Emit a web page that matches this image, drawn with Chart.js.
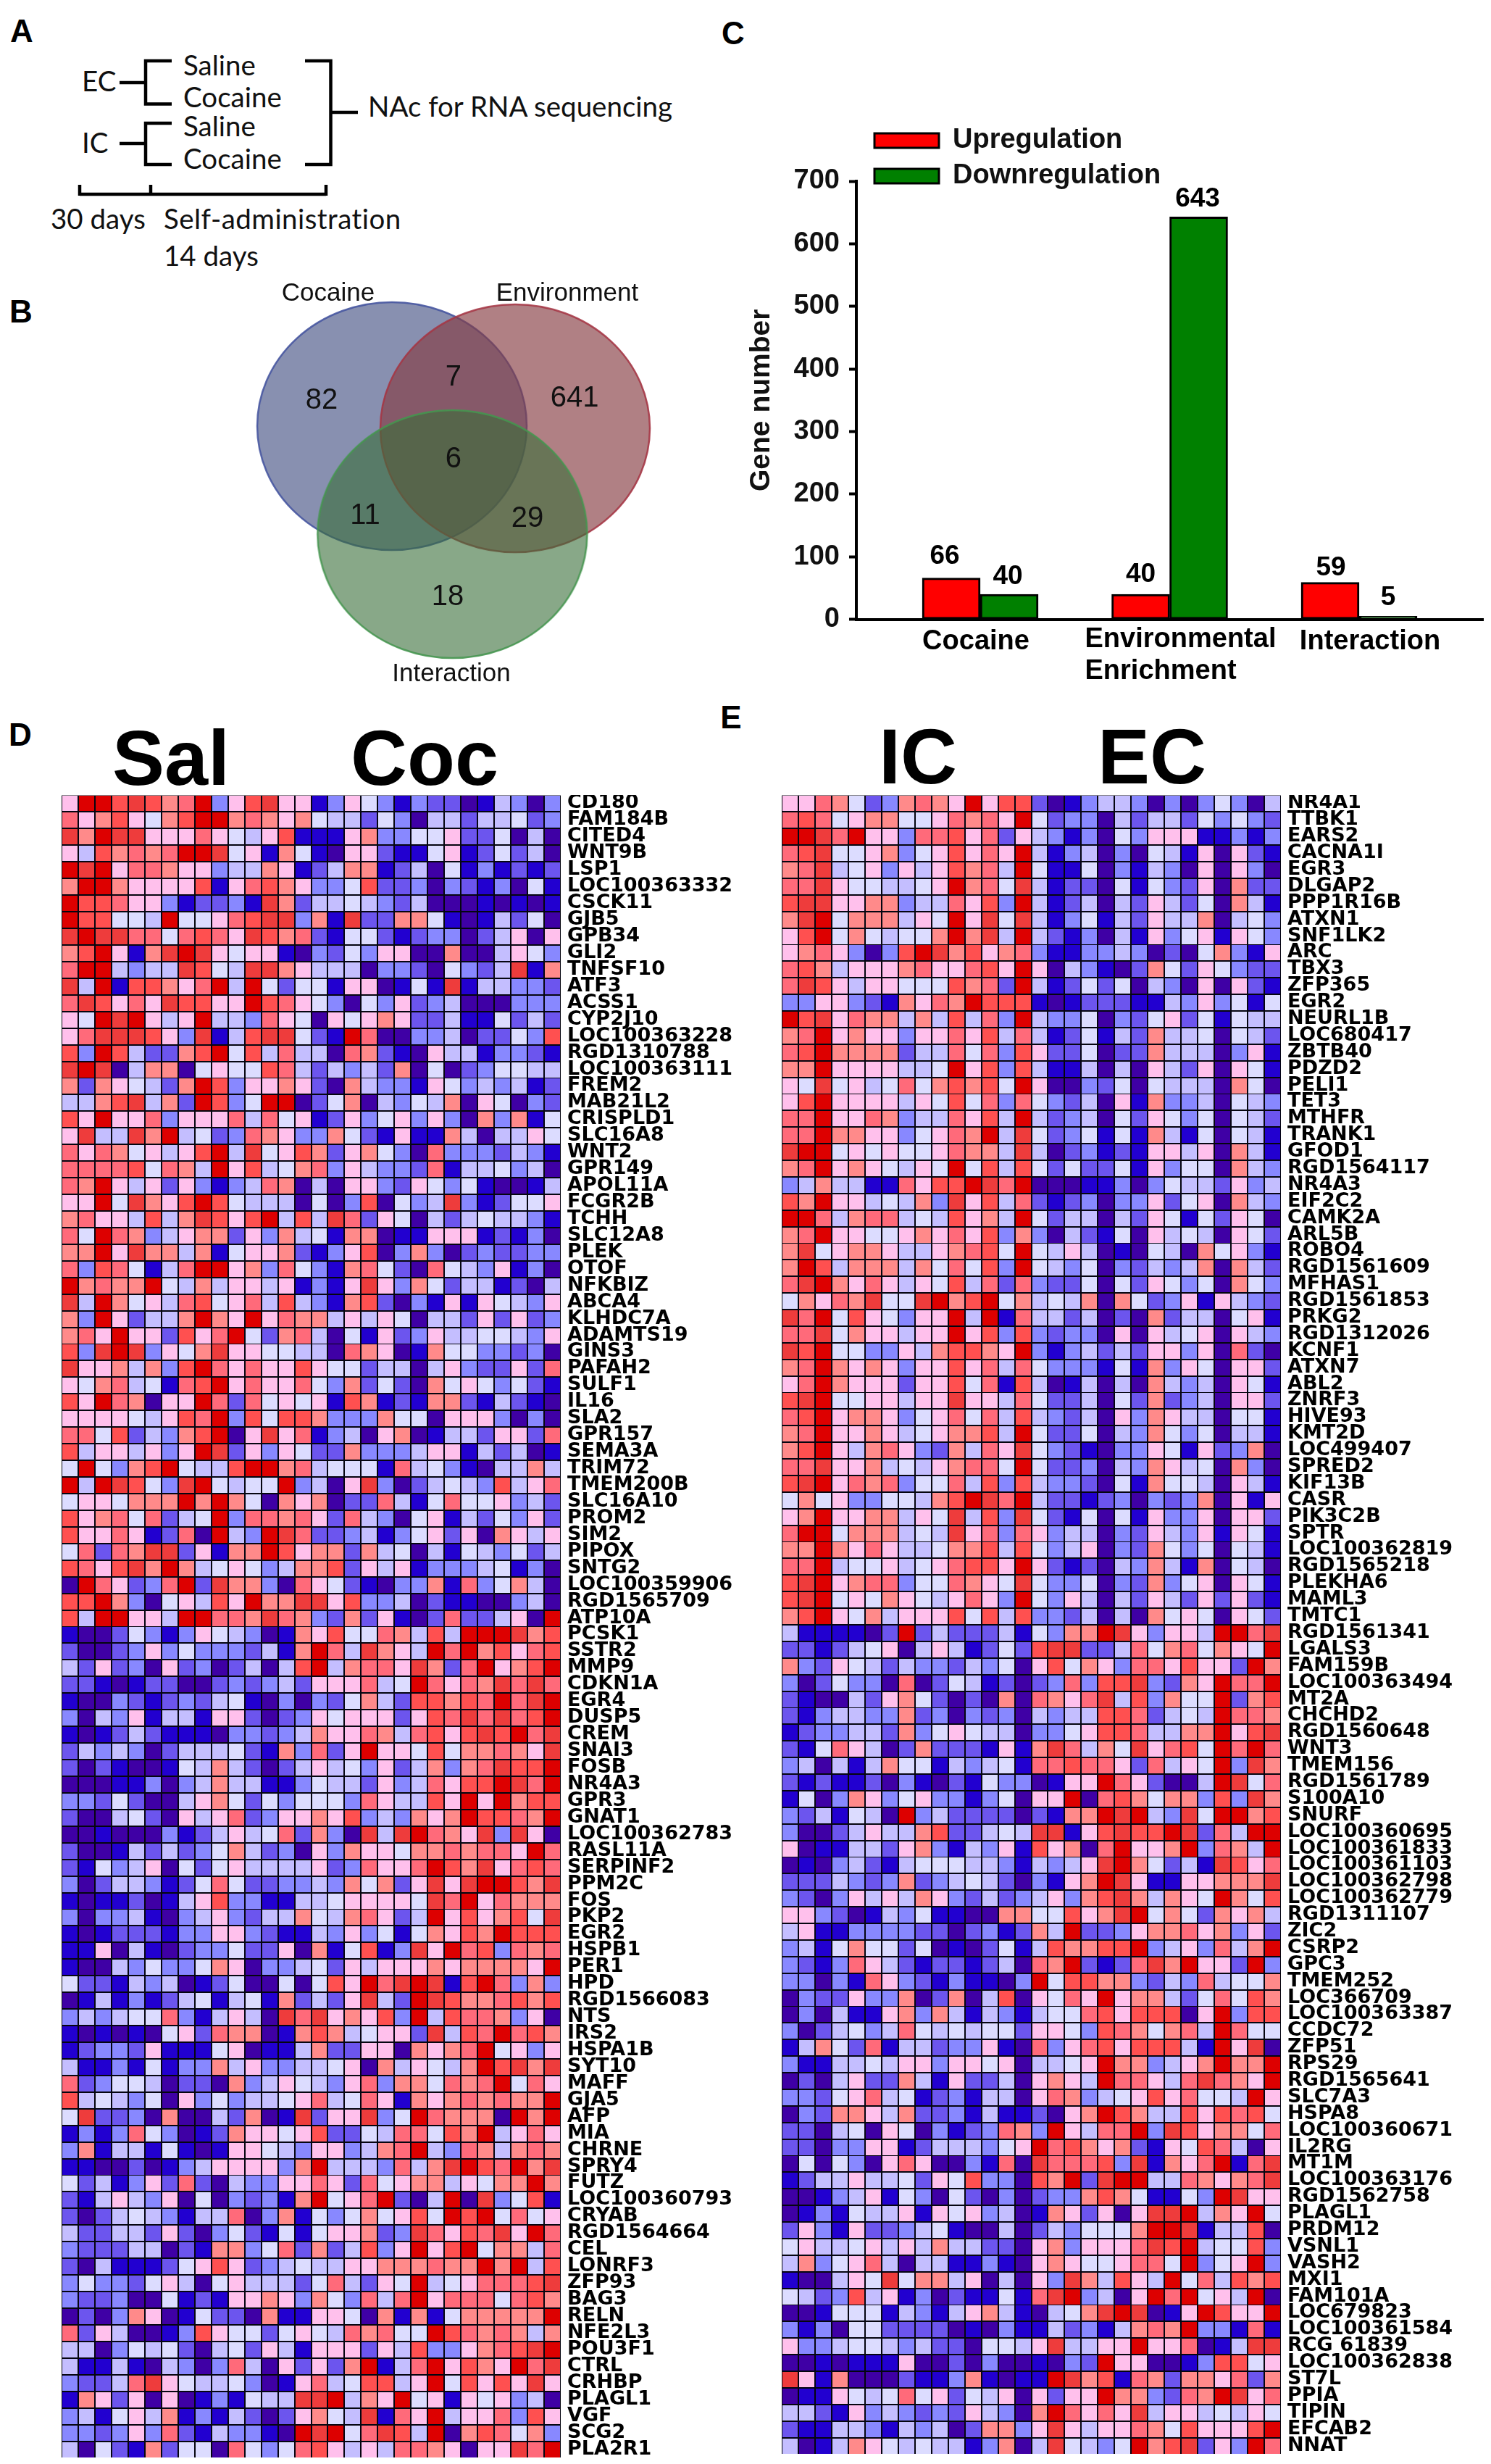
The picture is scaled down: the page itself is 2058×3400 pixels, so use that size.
<!DOCTYPE html>
<html><head><meta charset="utf-8"><title>Gene expression figure</title>
<script src="https://cdn.jsdelivr.net/npm/chart.js@4/dist/chart.umd.min.js"></script>
<style>
html,body{margin:0;padding:0;background:#fff;overflow:hidden}
#page{position:relative;width:2058px;height:3400px;background:#fff;overflow:hidden}
canvas{position:absolute;display:block}
.t{position:absolute;white-space:pre;line-height:1;color:#000;transform:translate(0,-50%)}
.c{transform:translate(-50%,-50%)}
.letter{font:bold 44px "Liberation Sans",Arial,sans-serif}
.big{font:bold 108px "Liberation Sans",Arial,sans-serif}
.cal{font:38.5px Lato,sans-serif;color:#111}
svg{position:absolute;left:0;top:0}
</style></head><body><div id="page">
<svg width="1000" height="380"><g fill="none" stroke="#000" stroke-width="4.500">
<path d="M165 114H201M237 84H201V143.500H237"/>
<path d="M165 198H201M237 170H201V227H237"/>
<path d="M421 84H456.500V227H421M456.500 155H494"/>
<path d="M110 268H450M110 255V270M208 255V270M450 255V270"/>
</g></svg>
<div class="t c letter" style="left:30px;top:43px">A</div>
<div class="t c letter" style="left:29px;top:430px">B</div>
<div class="t c letter" style="left:1012px;top:46px">C</div>
<div class="t c letter" style="left:28px;top:1014px">D</div>
<div class="t c letter" style="left:1009px;top:990px">E</div>
<div class="t cal" style="left:113px;top:111px">EC</div>
<div class="t cal" style="left:113px;top:196px">IC</div>
<div class="t cal" style="left:253px;top:89px">Saline</div>
<div class="t cal" style="left:253px;top:133px">Cocaine</div>
<div class="t cal" style="left:253px;top:173px">Saline</div>
<div class="t cal" style="left:253px;top:218px">Cocaine</div>
<div class="t cal" style="left:508px;top:146px">NAc for RNA sequencing</div>
<div class="t cal" style="left:70px;top:301px">30 days</div>
<div class="t cal" style="left:226px;top:301px;letter-spacing:.45px">Self-administration</div>
<div class="t cal" style="left:226px;top:352px">14 days</div>
<div class="t c big" style="left:236px;top:1045px">Sal</div>
<div class="t c big" style="left:586px;top:1045px">Coc</div>
<div class="t c big" style="left:1267px;top:1043px">IC</div>
<div class="t c big" style="left:1590px;top:1043px">EC</div>
<canvas id="venn" width="700" height="580" style="left:300px;top:380px"></canvas>
<canvas id="bars" width="1058" height="800" style="left:1000px;top:150px"></canvas>
<canvas id="heatD" width="945" height="2294" style="left:85px;top:1097px"></canvas>
<canvas id="heatE" width="979" height="2289" style="left:1079px;top:1097px"></canvas>
</div>
<script>
/* ---------- Panel B ---------- */
const vennSetNames = ['Cocaine', 'Environment', 'Interaction'];
const vennCentresX = [34.43, 58.71, 46.34];
const vennCentresY = [64.14, 63.62, 38.45];
const vennSetLabelX = [21.86, 69, 46.14];
const vennSetLabelY = [95.56, 95.56, 5.04];
const vennCounts = [82, 7, 641, 6, 11, 29, 18];
const vennCountX = [20.57, 46.57, 70.43, 46.57, 29.14, 61.14, 45.43];
const vennCountY = [70.19, 75.71, 70.71, 56.22, 42.78, 42.09, 23.47];

/* ---------- Panel C ---------- */
const barCategories = [['Cocaine'], ['Environmental', 'Enrichment'], ['Interaction']];
const upregulation = [66, 40, 59];
const downregulation = [40, 643, 5];

/* ---------- Panels D and E: level letters run a (lowest) to l (highest) ---------- */
const levelLetters = 'abcdefghijkl';
const levelColors = ['#3F00A5','#2200D0','#6C55EE','#8888FF','#C4BEFF','#DCDCFF','#FFC0EC','#FF8A8A','#FF6A7A','#FF5050','#EE3C3C','#DD0000'];

const genesD = ['CD180','FAM184B','CITED4','WNT9B','LSP1','LOC100363332','CSCK11','GJB5','GPB34','GLI2','TNFSF10','ATF3','ACSS1','CYP2J10','LOC100363228','RGD1310788','LOC100363111','FREM2','MAB21L2','CRISPLD1','SLC16A8','WNT2','GPR149','APOL11A','FCGR2B','TCHH','SLC12A8','PLEK','OTOF','NFKBIZ','ABCA4','KLHDC7A','ADAMTS19','GINS3','PAFAH2','SULF1','IL16','SLA2','GPR157','SEMA3A','TRIM72','TMEM200B','SLC16A10','PROM2','SIM2','PIPOX','SNTG2','LOC100359906','RGD1565709','ATP10A','PCSK1','SSTR2','MMP9','CDKN1A','EGR4','DUSP5','CREM','SNAI3','FOSB','NR4A3','GPR3','GNAT1','LOC100362783','RASL11A','SERPINF2','PPM2C','FOS','PKP2','EGR2','HSPB1','PER1','HPD','RGD1566083','NTS','IRS2','HSPA1B','SYT10','MAFF','GJA5','AFP','MIA','CHRNE','SPRY4','FUTZ','LOC100360793','CRYAB','RGD1564664','CEL','LONRF3','ZFP93','BAG3','RELN','NFE2L3','POU3F1','CTRL','CRHBP','PLAGL1','VGF','SCG2','PLA2R1'];

const genesE = ['NR4A1','TTBK1','EARS2','CACNA1I','EGR3','DLGAP2','PPP1R16B','ATXN1','SNF1LK2','ARC','TBX3','ZFP365','EGR2','NEURL1B','LOC680417','ZBTB40','PDZD2','PELI1','TET3','MTHFR','TRANK1','GFOD1','RGD1564117','NR4A3','EIF2C2','CAMK2A','ARL5B','ROBO4','RGD1561609','MFHAS1','RGD1561853','PRKG2','RGD1312026','KCNF1','ATXN7','ABL2','ZNRF3','HIVE93','KMT2D','LOC499407','SPRED2','KIF13B','CASR','PIK3C2B','SPTR','LOC100362819','RGD1565218','PLEKHA6','MAML3','TMTC1','RGD1561341','LGALS3','FAM159B','LOC100363494','MT2A','CHCHD2','RGD1560648','WNT3','TMEM156','RGD1561789','S100A10','SNURF','LOC100360695','LOC100361833','LOC100361103','LOC100362798','LOC100362779','RGD1311107','ZIC2','CSRP2','GPC3','TMEM252','LOC366709','LOC100363387','CCDC72','ZFP51','RPS29','RGD1565641','SLC7A3','HSPA8','LOC100360671','IL2RG','MT1M','LOC100363176','RGD1562758','PLAGL1','PRDM12','VSNL1','VASH2','MXI1','FAM101A','LOC679823','LOC100361584','RCG 61839','LOC100362838','ST7L','PPIA','TIPIN','EFCAB2','NNAT'];

const rowsD = [
'glljkjhildgjkggbdgfdbdccabedad','ighjgfhjllhihghfeecfdaeeceefcd','khlkkgggigfegjbbbghddffgccfaea','gejhihillkfgbhfbaggcbbfgbcfcea','lklgiihggdeehgbcehhbceafbdbcbc',
'hllhggggjbgijhgddfjccdadcbdafb','ljjiggdbccdbkhceefedceaaababab','ljjffelffgijkkdhbkcchhfbabecfa','klkkiifijigkjhicbffcbcddacegag','hjlgbhklkgfggbadcfdggaahaaegfd',
'illedeekjfekkhgeeeaddcafdcekbh','kelbjjhgilelfcffbggabfbkbeeddc','ikjgigkjjggljigfdafdgcdeaaaddd','gflklgegleedigfagfghgccebbfcec','gikkkjgdkbejkkfcbliaaddeaccfdj',
'jdljecchjlfjeieeaihcbageebddcb','klkaehhafgffjiecedechafacdffee','hchgfechljdgghgcaheddbgfdedebc','eehjkehcljdfllacfhaedfehagfadc','jglggidgggieifgbcgdfgdgdahdhbf',
'gkeekhlefcdihgddhfcbgbbheaeegf','igihfgegjlekfgjhcghfdaidddcedb','iiiijfihelgjefhidgeddcibeefdea','ihlgegcgdbdeihaeaggdcgfdfbaabe','gglfkhgjljfeeeafadjafdekdbcffg',
'higgejehkjgjlejekicgfaecefeedb','iflihdeghhcgdhefbhhabbgggbcbda','hhlgkhhehbfgghcbdgjadhdacdccdd','idjifbeillghdifdbhifcaifedgbda','lhihhlfeheggegbdbgkgdhfceebcae',
'kelhfgeijfgiejedbhjcadbgbgfedg','hdlgceehlhglgihhegegfaeecgcgcd','higlggcjgilfchieafbgcdgeeffedg','jdklkdgfhkggffeeaihgabhffddcda','kgghehdjligiggjgffceeaegdccgci',
'gfhiefbijlgiggifdhcfcahfgfdfcb','jglihagglicifgfgbjhbcbhhcbecba','ggggfegjildjfjjhdddhffagggdada','iifjcedhjlagkgibdeaghabeecggci','jeggegdglkcgdgfcchdddeggbeceab',
'flfdhjlfeejllhiefffbiefdbaeehe','lelkjfdklfeffldeagkdacefedjegi','fggfhhhlhlhfahghacciebfiffgdec','jghificefldiihigciedafgbecfdgc','jggigbcialedlkiccdebdfgcgahgeg',
'ficihkkcgbhhljghhchefaebfedfce','jigjkhlhefgfdehhjcgegbdddefbda','aligcdilckhhdaigfcbaddhbidfhea','jjlhdafgejglhhkkgjddeacbbaadea','jellggelliihkihdchcgbaciccegal',
'baacfdbdgfedabhgjffihejelllkhj','caacdgdfdddcebhliekhgelilhjgij','ecgcdagcdaceaejlehiigkhcilghjl','ccbabccaacdcdecgggiefligihkiki','baadcbcdcefbadadcfhecjjhjilikl',
'daedgbeebggcacdgfgggcgjikikijl','babcecbbbaddcdehggiheijgjkjlik','cededaceeefcbhdicglggfjfhhihgk','cacbaabfehecacegefdgcehdhikjjl','aaabbdadeheebbdfeecgdeigjjlkil',
'ddcfcaaeghfcfdfffdigeejglglhjj','caaefcagegicdgghgjdedhghljjihl','aabaaadbcegefichdakeklihgkdkga','caabececdfhecdagdhggfhhihiigli','cbfdegafcfgeeeegcdiggiljhkgiji',
'daceedbcfifccddedhfhcgkgklljhk','babbcabegjddbbeefggggfkilgihhh','daddebadegdceehfehigcelgjghjfk','babcccbddggdcbbedgdfbfhgjhljjj','bbgaebacddfccgahbfjbdkglijdihi',
'baaedfddfhgaddefcgeggghghhhhgl','fccbedeabcfaafafjgliklkbjlidhd','abebdbcefbefbhcecgkeclkjhhijhj','dedeffidbegeakikghgjdlejiihdga','bababafgcihhabhjhefggckejilijh',
'bcddcgbbbfgabbehccggahghilfgdg','ebbdbfbddhegddeefgahegfehljkhk','icdffeaccahdegfedgidhhfihilfig','jefedfagdfdeefgiefigbhghihihhl','fkccdahaaechabkcggkdflihhhalhl',
'bdbdifdabchggfgjccfeiifjhlegig','dhbeebfbabggfedggdehiledihehih','bbaacabdeggggdhleeediehkljilhk','fcebdgcicaeddggigcifghhegfhhlh','cbegedgafadcdbhlfgilcaelakdfjb',
'cacefedbeeiadhbfdfhfgjfljlfifg','ecceecgcadfcbfbfgghcdkigjikgli','dccceeacbhhdfichcejdglgjlfhhei','caebbbcfgjgcdefeegghhhihhlhlej','dfddcfgeafgeeecfiecgflefgiiijk',
'dccdaafbcbgghgdhfdieilgiiifijh','acadhgabfccahbbggfahbhbfhhhhhl','icgeaabdjgffcfgfeihiffljihiheh','eeadfefcaefcgebgggcgejddghijkl','ebbebaedadieagcgchlbeilgjhglik',
'dcceikgfeefdabgiefjjeglfjgjgkg','bhgcgagabdbfeekklehglfgbgfgdea','debfgehbdbecacghfekbigleggidjg','ddcdgdicbeddbalklfikjelahjifhd','eafcbhcffaifdfijgegeiihgaggkil'];

const rowsE = [
'ggihfcdhihglgjjcabdeedadadfdae','ijifghhffgihiglfcddaeceecfdfdc','llkilggdiijgicgedbdafdgggbbdbd','ijkffghdfgjgiglebdeadafebgagcb','hikefgdgegjhielfbbfadbedagagda',
'iikgffeefglhifkebccafbfdcgahcc','jkkgghhdeeigjdlebceaecgecfaheb','hklfhhhegflgkfkebdfbecgeehaefd','gjlfhfeffhlhkelecbdaebgdfgbgfd','ghigdadjlkhjghidbbddedacafhdbg',
'ijheggghiggijglgaedbachfcgfdcc','ikjgeggfffjhiclebcfcfaedagagcb','ddggdcbhgihljjjbabcccbbedgdfbf','ljkgihhehejeidleddfadcfgcfbfee','hilghggdggigjeiebcfbecheefafec',
'ijlhhhhceeifidjgccfaccheeeadgb','hhlggggeeflgjdjebbeaeagecgagfb','gfkfgefifhjhjflgaadcfafeeeahfa','gjlggggegfjfidifdceagbhddeafed','iilggihdeeigjelecdeafcgfdfafec',
'iilhhggdfgihlekfcdfbfbhebfafeb','kllfgfgffgihhekeacdbcbggegaheb','hilghgfegflfjejfcfccfbgdffahed','deheebbigjjlkilaaabbdadfeecgde','jhlggefehdkgjeicbcdaddgcfgahed',
'lliehiiefejghelfceeaecgfbfcgfa','hilggffghgigjdhdaecbfagefeagfc','hkfghhgeeghijflfegeabafeahfgdb','hljehhhehfifjdlfedfadcedehahec','iklhgigegfjeicidccfafcgfdfahfd',
'fhgihkffklhjlfhefehahfcdgbgedc','kilfjgfdgglelbieeceacahceeafgb','iikfhggegglgjdjdcddagagefgaged','kjlffddgehjjhgldbdececggdgaica','hilhghgdggjgieifdddbfbhdgfaggc',
'gilhgggcggjfibjeabeaeahedeagfb','jklffggeggkggeifcceafchcdeaggc','ijlghhgdfgifiejedceagdhgeeaffb','hilgghgefghhjelfccfaedhfdfaeeb','hjlgehigdcheigkfdcbaddgfbgcdha',
'iikgghefeghiiflfccdaedhgefahda','jklgihidffiejdjeddcafbhffeageb','fhfgddffehjlkileccbcdadcdhagbg','ghlgghhegfkejdkfcbfafbgddgaggc','illfhhhefekgidigdeeadcgedgbgfb',
'hhlhgigeefhhjejfdegadchfdfafeb','iileffgefgijjglgcbcaedhebhafea','jklghiidffihgfkfddfadchdfgagfb','jklfgfhgfegigdlfdgeaecgecgcgcb','hjlgfhegggjfjejddceaeahfgfagfc',
'ebbbbaclcecccebfdhhlkgdggellik','ccbcefgaegebcfcjkkcceifhifhgfl','hdcgfeceddcedfagjfhgdiigjggclh','dacfddaiacfebcacdidjjkdchgliil','cbaaecghfcacahaihgikejdhfflchj',
'cbdeeddhcdadcdaedeejjicefeliih','bcddeechdfgfeeaddfgjjieehhlgjk','cbfigeachcccbgbhkiehfkgijflili','deaebehffbedefbiijiigciegfldkh','cbcbbcadbacbfddabggligcaaelkfi',
'bfadhgdfgddbdfagglaijhfhhdjdkh','dcebfealdeccccacbhhlkledkfllhj','daacegeehjccefekkbgjkjjlkciell','gabbeecghdbedgbjghailgghldihel','abadecbefffeedbedegklhfcebkjgi',
'cccedcdhcdefecadbghlkgbbgghhhk','dcadgegehgdcecdegdhjkhehgflhfj','ggdcabedfbbaahhffjghklfhfchghe','egbbddddccacdbchelccdghhighdgc','debfhffcfabacfbejhhjjldegdiehl',
'dcbdigecbccbceaihlcbcikhlggcld','ddadbigdcbdbbadlfjjhhdcedieffh','adccgddhachaejagfiglghhecfifjh','adaebbghdhebedbeffijgjjjagldjj','dacefdeifefeffcggfdjihfhieliff',
'behfcibeecddgbaidgijgjjjeblgka','dbbeefeggdggfgaeefglhhdeghlhhl','acaegccheb'+'gcceaghgel'+'iigeikihgl','ddcfgiefbcdbeeagihdefgjgiffelg','adchhgehccdbebbcaghljheejgjijf',
'ccaefagfadbcdihdlgeiildkjghhfi','ccaddggbceeedfglijhghcbgfjieag','afafdagigaadbiakiiijdkbhgilbik','bceegeefcgfjddajhlcklleeihghik','aabdegbfdafcadacddhjhfbbfdlkgg',
'abdbfeegbgfgdeabhgcgagkklehglf','cgdbgccdefbaaeacedfffhllkbeeja','fgeefgegeheeccaghdgggikjleffjd','ehdfgieaeebbdbaghgffgiifldfgld','baaegfkfhhegaeagdkhejgelfiejhj',
'fecdjegbdacbbfbikldeaglilfgela','aabfffbedbeghebaefhklkabgljggl','dbdaffccccabadbbecdbehihlddbib','gddeffedeccaffegkeegglggiabekk','aababbbgaacadaabadclggaabdjjfg',
'kgbhaaacbbdhbabblkhjbihchhgich','abbgfefifgcfegagcgglhhdcihlkgi','eecbgdedcdcgedahligigkeggefegf','cbbeedbedeachhdgkgeggihfjgggjl','eabehgfefeebdhaekfedflhjkcgdli'];

const HEAT_COLUMNS = 30;

Chart.defaults.animation = false;
Chart.defaults.responsive = false;
Chart.defaults.devicePixelRatio = 1;

/* ---------- Venn ---------- */
function ellipseSprite(rx, ry, fill, stroke) {
  const c = document.createElement('canvas');
  c.width = Math.ceil(rx * 2 + 6);
  c.height = Math.ceil(ry * 2 + 6);
  const g = c.getContext('2d');
  g.beginPath();
  g.ellipse(c.width / 2, c.height / 2, rx, ry, 0, 0, Math.PI * 2);
  g.fillStyle = fill; g.fill();
  g.lineWidth = 2.5; g.strokeStyle = stroke; g.stroke();
  return c;
}
const vennStyles = [
  [186, 171, 'rgba(57,70,123,0.6)', 'rgba(70,85,160,0.9)'],
  [186, 171, 'rgba(134,60,66,0.65)', 'rgba(165,55,70,0.9)'],
  [186, 171, 'rgba(57,110,57,0.6)', 'rgba(70,150,80,0.9)']
];
const vennText = {
  id: 'vennText',
  afterDatasetsDraw(chart) {
    const { ctx, scales: { x, y } } = chart;
    ctx.save();
    ctx.fillStyle = '#111'; ctx.textAlign = 'center'; ctx.textBaseline = 'middle';
    ctx.font = '35px "Liberation Sans",Arial,sans-serif';
    vennSetNames.forEach((n, i) => ctx.fillText(n, x.getPixelForValue(vennSetLabelX[i]), y.getPixelForValue(vennSetLabelY[i])));
    ctx.font = '40px "Liberation Sans",Arial,sans-serif';
    vennCounts.forEach((n, i) => ctx.fillText(String(n), x.getPixelForValue(vennCountX[i]), y.getPixelForValue(vennCountY[i])));
    ctx.restore();
  }
};
new Chart(document.getElementById('venn'), {
  type: 'scatter',
  data: { datasets: vennSetNames.map((n, i) => ({
    label: n, order: 3 - i,
    data: [{ x: vennCentresX[i], y: vennCentresY[i] }],
    pointStyle: ellipseSprite(...vennStyles[i]), pointRadius: 1, pointHoverRadius: 1
  })) },
  options: {
    layout: { padding: 0, autoPadding: false },
    plugins: { legend: { display: false }, tooltip: { enabled: false } },
    events: [],
    scales: {
      x: { type: 'linear', min: 0, max: 100, display: false },
      y: { type: 'linear', min: 0, max: 100, display: false }
    }
  },
  plugins: [vennText]
});

/* ---------- Bars ---------- */
const BOLD = '"Liberation Sans",Arial,sans-serif';
const valueLabelDx = [[-9, 0, 1], [-2, -1.5, 0]];
const valueLabelDy = [[-30, -27, -20], [-24, -24, -25]];
const categoryLabelDx = [-6, -117, 15];
const categoryLabelAlign = ['center', 'left', 'center'];
const barDecor = {
  id: 'barDecor',
  afterLayout(chart) {
    const l = chart.legend;
    l.left = 196; l.right = 1000; l.top = 14; l.bottom = 140;
  },
  afterDatasetsDraw(chart) {
    const { ctx, scales: { x } } = chart;
    ctx.save();
    ctx.fillStyle = '#000';
    ctx.font = 'bold 37px ' + BOLD;
    ctx.textBaseline = 'middle'; ctx.textAlign = 'center';
    [upregulation, downregulation].forEach((series, d) => {
      const meta = chart.getDatasetMeta(d);
      series.forEach((v, i) => {
        const bar = meta.data[i];
        ctx.fillText(String(v), bar.x + valueLabelDx[d][i], bar.y + valueLabelDy[d][i]);
      });
    });
    ctx.font = 'bold 38px ' + BOLD;
    barCategories.forEach((lines, i) => {
      ctx.textAlign = categoryLabelAlign[i];
      lines.forEach((t, j) => ctx.fillText(t, x.getPixelForValue(i) + categoryLabelDx[i], (lines.length > 1 ? 733 : 736) + j * 44));
    });
    ctx.restore();
  }
};
new Chart(document.getElementById('bars'), {
  type: 'bar',
  data: { datasets: [
    { label: 'Upregulation', data: upregulation.map((v, i) => ({ x: i, y: v })), backgroundColor: '#FF0000', borderColor: '#000', borderWidth: 3, borderSkipped: false, barThickness: 80 },
    { label: 'Downregulation', data: downregulation.map((v, i) => ({ x: i, y: v })), backgroundColor: '#008000', borderColor: '#000', borderWidth: 3, borderSkipped: false, barThickness: 80 }
  ] },
  options: {
    events: [],
    layout: { padding: { top: 100, right: 11, left: 0, bottom: 0 }, autoPadding: false },
    plugins: {
      tooltip: { enabled: false },
      legend: { position: 'chartArea', align: 'start',
        labels: { boxWidth: 89, boxHeight: 20, padding: 11, color: '#111', font: { family: BOLD, size: 38, weight: 'bold' } } }
    },
    scales: {
      x: { type: 'linear', min: -0.654, max: 2.654, offset: false,
        afterBuildTicks: s => { s.ticks = barCategories.map((_, i) => ({ value: i })); },
        afterFit: s => { s.height = 95.4; },
        grid: { display: false }, ticks: { display: false },
        border: { display: true, width: 4, color: '#000' } },
      y: { type: 'linear', min: 0, max: 700,
        afterFit: s => { s.width = 182; },
        ticks: { stepSize: 100, color: '#111', padding: 13, font: { family: BOLD, size: 38, weight: 'bold' } },
        grid: { drawOnChartArea: false, drawTicks: true, tickLength: 10, tickWidth: 4, tickColor: '#000' },
        border: { display: true, width: 4, color: '#000' },
        title: { display: true, text: 'Gene number', color: '#111', padding: { top: 28, bottom: 0 }, font: { family: BOLD, size: 39, weight: 'bold' } } }
    }
  },
  plugins: [barDecor]
});

/* ---------- Heatmaps ---------- */
const crispRows = {
  id: 'crispRows',
  beforeDatasetsDraw(chart) { chart.ctx.save(); chart.ctx.translate(0, 0.5); },
  afterDatasetsDraw(chart) { chart.ctx.restore(); }
};
function heatmap(id, genes, rows, labelWidth) {
  rows.forEach((r, i) => { if (r.length !== HEAT_COLUMNS) throw new Error(id + ' row ' + i + ' has ' + r.length + ' cells'); });
  const levels = rows.map(r => [...r].map(ch => levelLetters.indexOf(ch)));
  const datasets = [];
  for (let col = 0; col < HEAT_COLUMNS; col++) {
    datasets.push({
      label: 'S' + (col + 1),
      data: genes.map(() => 1),
      backgroundColor: levels.map(r => levelColors[r[col]]),
      borderColor: '#050510', borderWidth: 1, borderSkipped: false, inflateAmount: 0,
      barThickness: 23
    });
  }
  new Chart(document.getElementById(id), {
    type: 'bar',
    data: { labels: genes, datasets },
    options: {
      indexAxis: 'y', events: [],
      layout: { padding: 0, autoPadding: false },
      plugins: { legend: { display: false }, tooltip: { enabled: false } },
      scales: {
        x: { stacked: true, min: 0, max: HEAT_COLUMNS, display: false, alignToPixels: true },
        y: { stacked: true, position: 'right', alignToPixels: true,
          afterFit: s => { s.width = labelWidth; s.paddingTop = 0; s.paddingBottom = 0; },
          grid: { display: false, drawTicks: false }, border: { display: false },
          ticks: { autoSkip: false, minRotation: 0, maxRotation: 0, padding: 9, color: '#000',
            font: { family: '"DejaVu Sans"', size: 27, weight: 'bold' } } }
      }
    },
    plugins: [crispRows]
  });
}
heatmap('heatD', genesD, rowsD, 256);
heatmap('heatE', genesE, rowsE, 290);
</script></body></html>
